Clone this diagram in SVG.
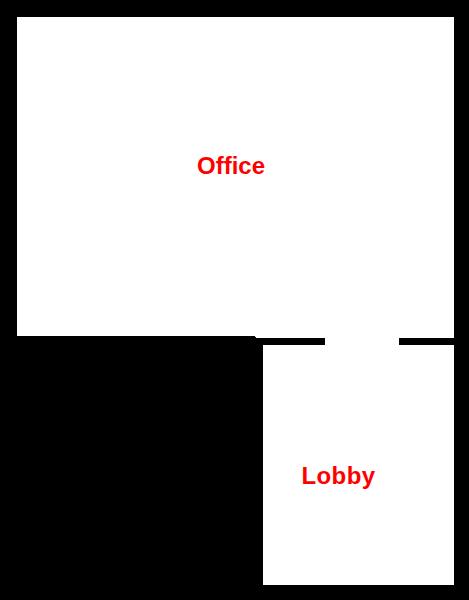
<svg xmlns="http://www.w3.org/2000/svg" width="469" height="600" viewBox="0 0 469 600"><style>.r{fill:#fff}.t{fill:#f00;font:bold 24px "Liberation Sans",Arial,sans-serif;text-rendering:optimizeSpeed;font-kerning:none}</style><rect width="469" height="600" fill="#000"/><g id="office"><rect class="r" x="17" y="17" width="437" height="319"/><text class="t" x="197" y="174">Office</text></g><g id="lobby"><rect class="r" x="263" y="345" width="191" height="240"/><rect class="r" x="325" y="336" width="74" height="10"/><text class="t" x="301.5" y="484" letter-spacing="0.4">Lobby</text></g><rect class="r" x="256" y="336" width="198" height="2"/><rect class="r" x="255" y="336" width="1" height="1"/></svg>
